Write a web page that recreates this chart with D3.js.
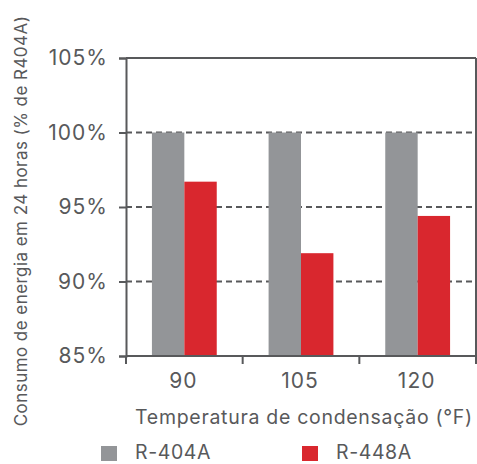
<html>
  <head>
    <style>
      body { margin: 0; background: #fff; }
      text { font-family: Inter, "Open Sans", sans-serif; fill: #58595b; }
      .frame line, .frame path { stroke: #58595b; }
    </style>
    <script src="https://cdnjs.cloudflare.com/ajax/libs/d3/7.8.5/d3.min.js"></script>
  </head>
  <body>
    <svg id="svg"></svg>
    <script>
      var width = 477,
          height = 464,
          margin = {top: 58, right: 1, bottom: 108, left: 126};

      // data
      var temps = ["90", "105", "120"];
      var series = ["R-404A", "R-448A"];
      var r404a = [100, 100, 100];
      var r448a = [96.7, 91.9, 94.4];
      var yTicks = [85, 90, 95, 100, 105];
      var colors = ["#939598", "#d9272e"];

      var svg = d3.select("#svg")
          .attr("width", width)
          .attr("height", height);

      var x = d3.scaleBand()
          .domain(temps)
          .range([margin.left, width - margin.right]);

      var xInner = d3.scaleBand()
          .domain(series)
          .range([0, x.bandwidth()])
          .paddingInner(0)
          .paddingOuter(0.8);

      var y = d3.scaleLinear()
          .domain([85, 105])
          .range([height - margin.bottom, margin.top]);

      var rows = temps.map((t, i) => {
        return {t: t, vals: [r404a[i], r448a[i]]};
      });

      // dashed grid lines
      svg.append("g")
        .selectAll("line")
        .data(yTicks.filter(d => d > 85 && d < 105))
        .enter().append("line")
          .attr("x1", margin.left)
          .attr("x2", width - margin.right)
          .attr("y1", d => y(d))
          .attr("y2", d => y(d))
          .attr("stroke", "#58595b")
          .attr("stroke-width", 2)
          .attr("stroke-dasharray", "6,4");

      // bars
      svg.append("g")
        .selectAll("g")
        .data(rows)
        .enter().append("g")
          .attr("transform", d => "translate(" + x(d.t) + ",0)")
        .selectAll("rect")
        .data(d => d.vals.map((v, j) => { return {s: series[j], v: v, c: colors[j]}; }))
        .enter().append("rect")
          .attr("x", d => xInner(d.s))
          .attr("width", xInner.bandwidth())
          .attr("y", d => y(d.v))
          .attr("height", d => y(85) - y(d.v))
          .attr("fill", d => d.c);

      // frame: top and right edges
      var frame = svg.append("g").attr("class", "frame");
      frame.append("line")
        .attr("x1", margin.left).attr("x2", width - margin.right)
        .attr("y1", y(105)).attr("y2", y(105))
        .attr("stroke-width", 2);
      frame.append("line")
        .attr("x1", width - margin.right).attr("x2", width - margin.right)
        .attr("y1", y(105)).attr("y2", y(85))
        .attr("stroke-width", 2);

      // y axis
      var yAxis = svg.append("g")
        .attr("class", "frame")
        .attr("transform", "translate(" + margin.left + ",0)")
        .call(d3.axisLeft(y).tickValues(yTicks).tickSize(7).tickPadding(11)
          .tickFormat(d => d + "%"));
      yAxis.select(".domain").attr("stroke-width", 2);
      yAxis.selectAll(".tick line").attr("stroke-width", 2);
      yAxis.selectAll("text")
        .style("font-size", "21px")
        .style("letter-spacing", "1px")
        .attr("fill", null);

      // x axis: ticks on the band edges
      var edges = temps.map(t => x(t)).concat([width - margin.right]);
      var xAxisG = svg.append("g").attr("class", "frame");
      xAxisG.append("line")
        .attr("x1", margin.left).attr("x2", width - margin.right)
        .attr("y1", y(85)).attr("y2", y(85))
        .attr("stroke-width", 2);
      xAxisG.selectAll(".edge")
        .data(edges)
        .enter().append("line")
          .attr("class", "edge")
          .attr("x1", d => d).attr("x2", d => d)
          .attr("y1", y(85)).attr("y2", y(85) + 8)
          .attr("stroke-width", 2);
      xAxisG.selectAll("text")
        .data(temps)
        .enter().append("text")
          .attr("x", d => x(d) + x.bandwidth() / 2 - 1)
          .attr("y", y(85) + 32)
          .attr("text-anchor", "middle")
          .style("font-size", "21px")
          .style("letter-spacing", "1px")
          .text(d => d);

      // axis titles
      svg.append("text")
        .attr("x", 304)
        .attr("y", 424)
        .attr("text-anchor", "middle")
        .style("font-size", "19.5px")
        .style("letter-spacing", "0.7px")
        .text("Temperatura de condensação (°F)");

      svg.append("text")
        .attr("transform", "translate(27,221) rotate(-90)")
        .attr("text-anchor", "middle")
        .style("font-size", "17px")
        .style("letter-spacing", "0.45px")
        .text("Consumo de energia em 24 horas (% de R404A)");

      // legend
      var legendX = [101, 302];
      var legend = svg.append("g")
        .selectAll("g")
        .data(series)
        .enter().append("g")
          .attr("transform", (d, i) => "translate(" + legendX[i] + ",445)");
      legend.append("rect")
        .attr("y", 1)
        .attr("width", 16)
        .attr("height", 15)
        .attr("fill", (d, i) => colors[i]);
      legend.append("text")
        .attr("x", 34)
        .attr("y", 14)
        .style("font-size", "19.5px")
        .style("letter-spacing", "0.6px")
        .text(d => d);
    </script>
  </body>
</html>
